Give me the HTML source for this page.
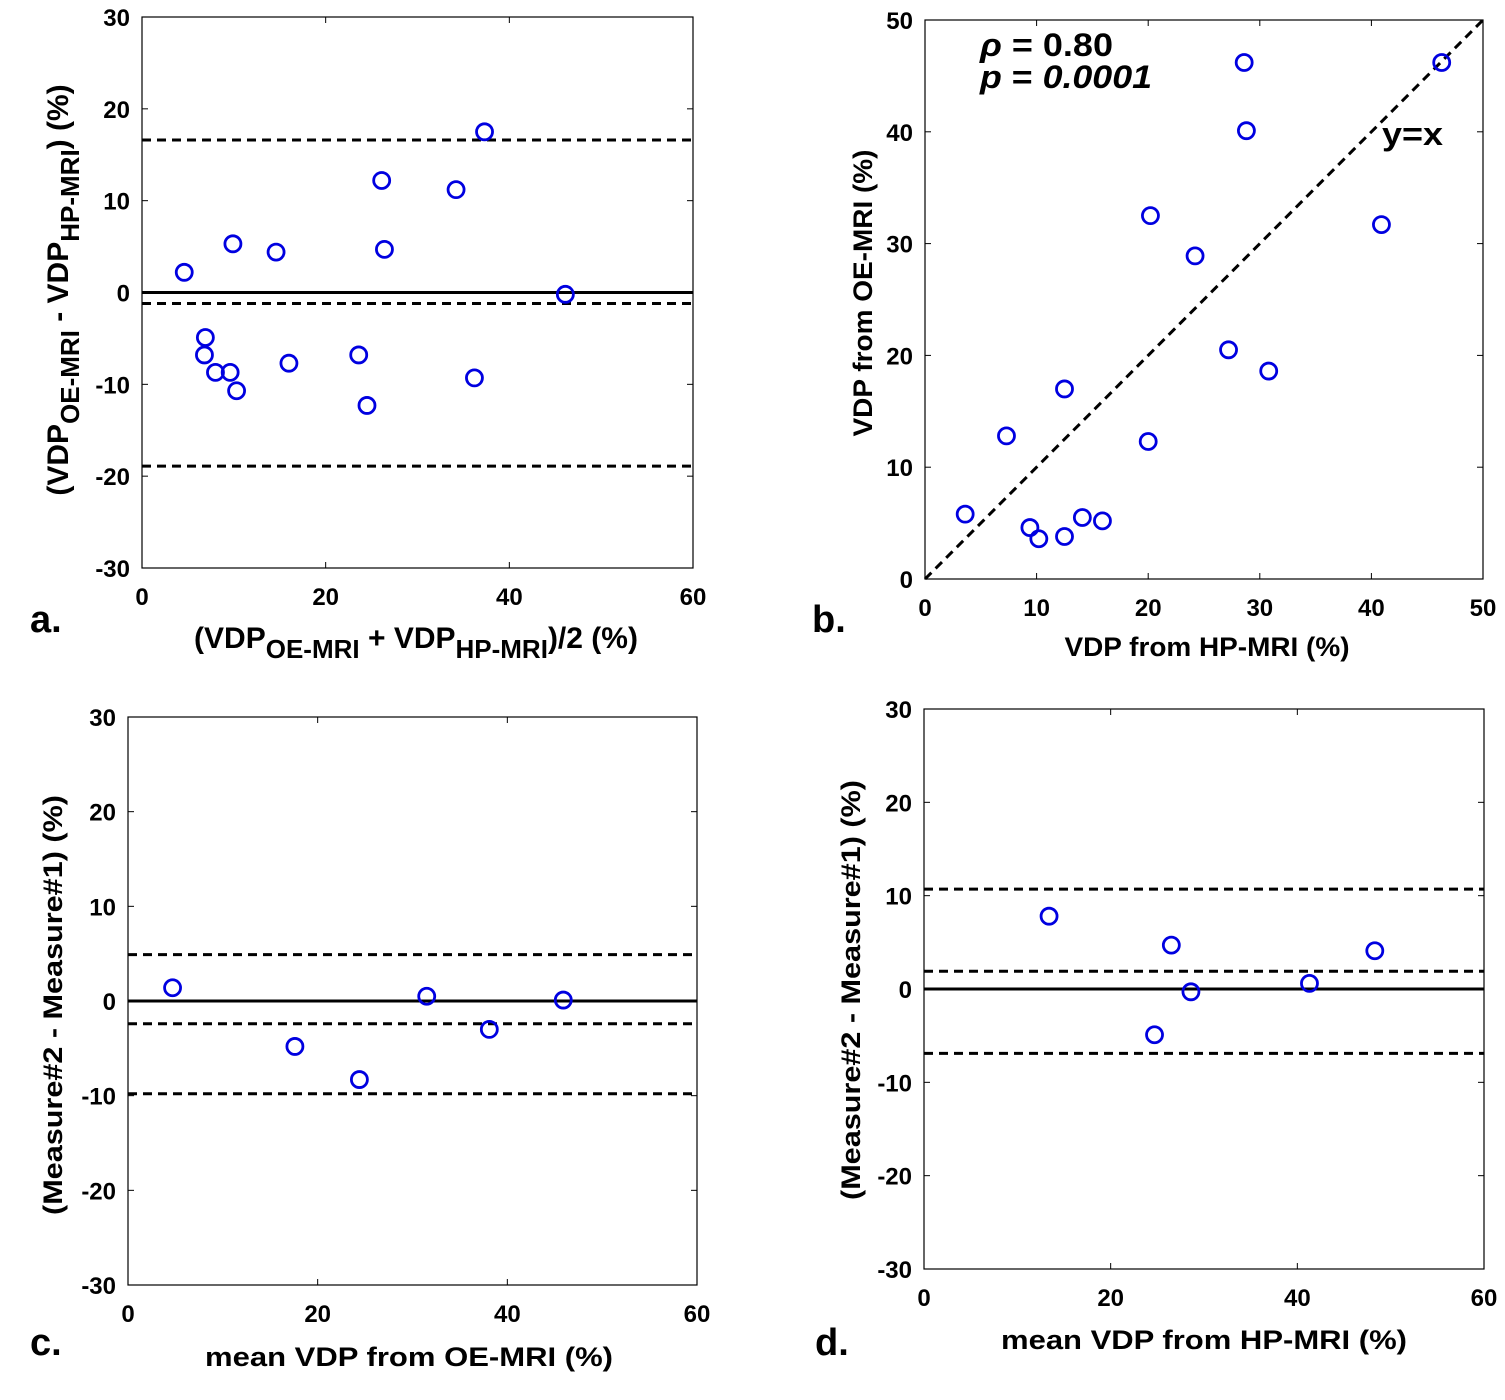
<!DOCTYPE html>
<html><head><meta charset="utf-8"><style>
body{margin:0;background:#fff}
svg{display:block;font-family:"Liberation Sans",Arial,sans-serif;font-weight:bold}
</style></head><body>
<svg id="s" width="1505" height="1400" viewBox="0 0 1505 1400"></svg>
<script>
const aX=[4.6,9.9,14.6,26.1,34.2,37.3,26.4,46.1,6.9,6.8,8.0,9.6,10.3,16.0,23.6,24.5,36.2];
const aY=[2.2,5.3,4.4,12.2,11.2,17.5,4.7,-0.2,-4.9,-6.8,-8.7,-8.7,-10.7,-7.7,-6.8,-12.3,-9.3];
const aLines=[16.6,-1.2,-18.9];
const bX=[3.6,7.3,9.4,10.2,12.5,12.5,14.1,15.9,20.0,20.2,24.2,27.2,28.6,28.8,30.8,40.9,46.3];
const bY=[5.8,12.8,4.6,3.6,17.0,3.8,5.5,5.2,12.3,32.5,28.9,20.5,46.2,40.1,18.6,31.7,46.2];
const cX=[4.7,17.6,24.4,31.5,38.1,45.9];
const cY=[1.4,-4.8,-8.3,0.5,-3.0,0.1];
const cLines=[4.9,-2.4,-9.8];
const dX=[13.4,26.5,28.6,24.7,41.3,48.3];
const dY=[7.8,4.7,-0.3,-4.9,0.6,4.1];
const dLines=[10.7,1.9,-6.9];
const baTicksX=[0,20,40,60];
const baTicksY=[-30,-20,-10,0,10,20,30];
const bTicks=[0,10,20,30,40,50];

const svg=document.getElementById('s');
const NS='http://www.w3.org/2000/svg';
function mk(tag,attrs,parent,text){
  const e=document.createElementNS(NS,tag);
  for(const k in attrs)e.setAttribute(k,attrs[k]);
  if(text!==undefined)e.textContent=text;
  (parent||svg).appendChild(e);return e;
}
function panel(id,x0,x1,y0,y1,xmin,xmax,ymin,ymax,tx,ty,xs,ys,lines,zero){
  const g=mk('g',{});
  
  
  const X=v=>x0+(v-xmin)/(xmax-xmin)*(x1-x0);
  const Y=v=>y1-(v-ymin)/(ymax-ymin)*(y1-y0);
  const box=mk('rect',{x:x0,y:y0,width:x1-x0,height:y1-y0,fill:'none',stroke:'#000','stroke-width':1.2},g);
  
  
  tx.forEach(t=>{
    mk('line',{x1:X(t),x2:X(t),y1:y1,y2:y1-6,stroke:'#000'},g);
    mk('line',{x1:X(t),x2:X(t),y1:y0,y2:y0+6,stroke:'#000'},g);
    const l=mk('text',{x:X(t),y:y1+37,'text-anchor':'middle','font-size':24},g,String(t));
    
    
  });
  ty.forEach(t=>{
    mk('line',{x1:x0,x2:x0+6,y1:Y(t),y2:Y(t),stroke:'#000'},g);
    mk('line',{x1:x1,x2:x1-6,y1:Y(t),y2:Y(t),stroke:'#000'},g);
    const l=mk('text',{x:x0-12,y:Y(t)+9,'text-anchor':'end','font-size':24},g,String(t));
    
    
  });
  if(zero){
    const z=mk('line',{x1:x0,x2:x1,y1:Y(0),y2:Y(0),stroke:'#000','stroke-width':3},g);
    
    
  }
  (lines||[]).forEach(v=>{
    const d=mk('line',{x1:x0,x2:x1,y1:Y(v),y2:Y(v),stroke:'#000','stroke-width':3,'stroke-dasharray':'9,6'},g);
    
    
  });
  return {g,X,Y,draw(){
    xs.forEach((v,i)=>{
      const c=mk('circle',{cx:X(v),cy:Y(ys[i]),r:8,fill:'none',stroke:'#0000e0','stroke-width':2.8},g);
      
      
    });
  }};
}
function fit(t,len){
  t.setAttribute('textLength',len);
  t.setAttribute('lengthAdjust','spacingAndGlyphs');
}
function rot(x,y,size,html,name,len){
  const t=mk('text',{x:x,y:y,'text-anchor':'middle','font-size':size,transform:`rotate(-90 ${x} ${y})`});
  t.innerHTML=html;
  
  
  if(len)fit(t,len);
  return t;
}
function txt(x,y,size,html,name,anchor,len){
  const t=mk('text',{x:x,y:y,'text-anchor':anchor||'middle','font-size':size});
  t.innerHTML=html;
  
  
  if(len)fit(t,len);
  return t;
}
// a
const pa=panel('a',142,693,17,568,0,60,-30,30,baTicksX,baTicksY,aX,aY,aLines,true);pa.draw();
txt(416,648,30,'(VDP<tspan dy="10" font-size="26">OE-MRI</tspan><tspan dy="-10"> + VDP</tspan><tspan dy="10" font-size="26">HP-MRI</tspan><tspan dy="-10">)/2 (%)</tspan>','x-axis-title-a');
rot(68,290,30,'(VDP<tspan dy="11" font-size="26">OE-MRI</tspan><tspan dy="-11"> - VDP</tspan><tspan dy="11" font-size="26">HP-MRI</tspan><tspan dy="-11">) (%)</tspan>','y-axis-title-a');
txt(30,632,38,'a.','panel-label-a','start');
// b
const pb=panel('b',925,1483,20,579,0,50,0,50,bTicks,bTicks,bX,bY,[],false);
const yx=mk('line',{x1:pb.X(0),y1:pb.Y(0),x2:pb.X(50),y2:pb.Y(50),stroke:'#000','stroke-width':3,'stroke-dasharray':'9,6'},pb.g);


pb.draw();
txt(1207,656,27,'VDP from HP-MRI (%)','x-axis-title-b','middle',285);
rot(872,293,27,'VDP from OE-MRI (%)','y-axis-title-b',287);
txt(980,56,32,'<tspan font-style="italic">ρ</tspan> = 0.80','rho-annotation','start',133);
txt(980,88,32,'<tspan font-style="italic">p</tspan> = <tspan font-style="italic">0.0001</tspan>','p-annotation','start',172);
txt(1382,145,32,'y=x','identity-label','start',61);
txt(812,632,38,'b.','panel-label-b','start');
// c
const pc=panel('c',128,697,717,1285,0,60,-30,30,baTicksX,baTicksY,cX,cY,cLines,true);pc.draw();
txt(409,1366,27,'mean VDP from OE-MRI (%)','x-axis-title-c','middle',408);
rot(62,1005,27,'(Measure#2 - Measure#1) (%)','y-axis-title-c',420);
txt(30,1355,38,'c.','panel-label-c','start');
// d
const pd=panel('d',924,1484,709,1269,0,60,-30,30,baTicksX,baTicksY,dX,dY,dLines,true);pd.draw();
txt(1204,1349,27,'mean VDP from HP-MRI (%)','x-axis-title-d','middle',406);
rot(860,990,27,'(Measure#2 - Measure#1) (%)','y-axis-title-d',420);
txt(815,1355,38,'d.','panel-label-d','start');
</script>
</body></html>
